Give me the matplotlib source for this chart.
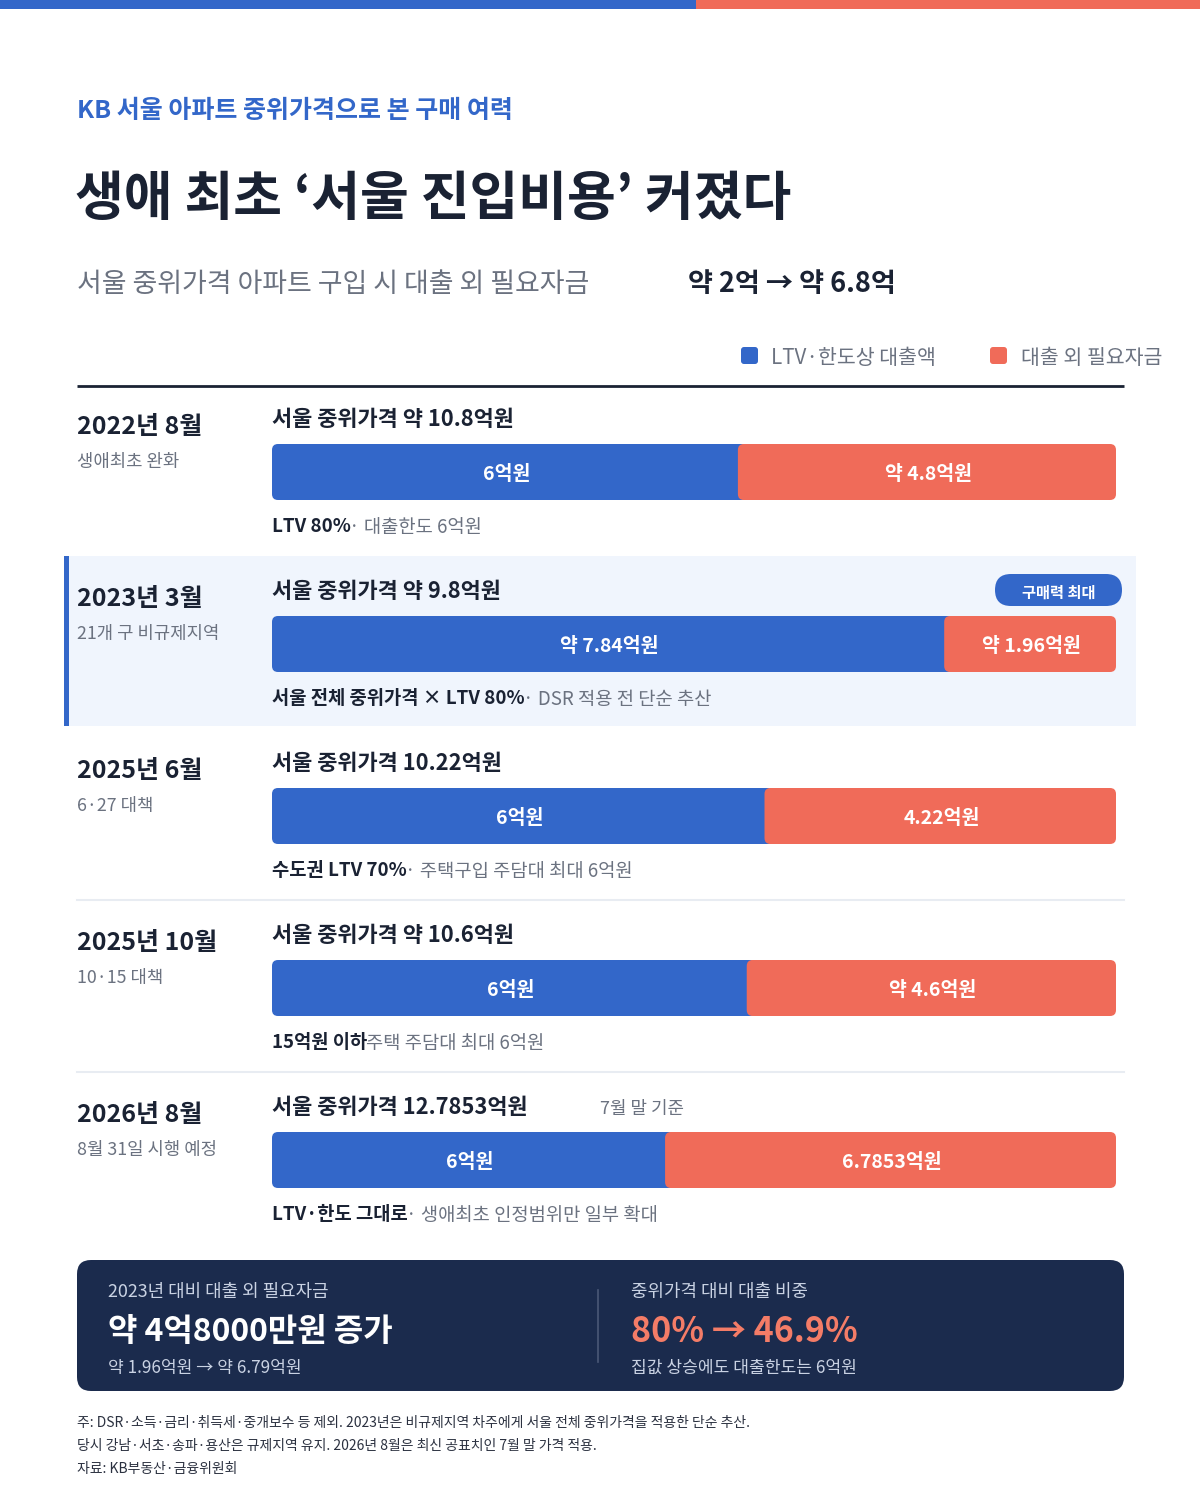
import matplotlib
matplotlib.use('Agg')
import matplotlib.pyplot as plt
from matplotlib.patches import FancyBboxPatch, Rectangle

plt.rcParams['font.family'] = ['Noto Sans CJK KR', 'DejaVu Sans']

# === data === #
periods = ['2022년 8월', '2023년 3월', '2025년 6월', '2025년 10월', '2026년 8월']
period_notes = ['생애최초 완화', '21개 구 비규제지역', '6·27 대책', '10·15 대책', '8월 31일 시행 예정']
headings = ['서울 중위가격 약 10.8억원', '서울 중위가격 약 9.8억원', '서울 중위가격 10.22억원',
            '서울 중위가격 약 10.6억원', '서울 중위가격 12.7853억원']
loan = [6.0, 7.84, 6.0, 6.0, 6.0]
extra = [4.8, 1.96, 4.22, 4.6, 6.7853]
loan_labels = ['6억원', '약 7.84억원', '6억원', '6억원', '6억원']
extra_labels = ['약 4.8억원', '약 1.96억원', '4.22억원', '약 4.6억원', '6.7853억원']
rule_bold = ['LTV 80%', '서울 전체 중위가격 × LTV 80%', '수도권 LTV 70%', '15억원 이하', 'LTV·한도 그대로']
rule_rest = ['· 대출한도 6억원', '· DSR 적용 전 단순 추산', '· 주택구입 주담대 최대 6억원',
             '주택 주담대 최대 6억원', '· 생애최초 인정범위만 일부 확대']
highlight_row = 1
footnotes = ['주: DSR·소득·금리·취득세·중개보수 등 제외. 2023년은 비규제지역 차주에게 서울 전체 중위가격을 적용한 단순 추산.',
             '당시 강남·서초·송파·용산은 규제지역 유지. 2026년 8월은 최신 공표치인 7월 말 가격 적용.',
             '자료: KB부동산·금융위원회']

BLUE = '#3367C9'
RED = '#F06B59'
NAVY = '#1B2B4D'
DARK = '#1A2233'
GRAY = '#6B7280'
HILITE = '#F0F5FD'
SEP = '#E8ECF2'
PALE = '#C9D2E3'

W, H = 1200, 1500
DY = 3  # CJK glyphs sit a little high with va='center'

fig = plt.figure(figsize=(12, 15), dpi=100)
fig.patch.set_facecolor('white')

# canvas axes in pixel units for the layout
ax = fig.add_axes([0, 0, 1, 1])
ax.set_xlim(0, W)
ax.set_ylim(H, 0)
ax.axis('off')


def txt(x, y, s, **kw):
    kw.setdefault('va', 'center')
    return ax.text(x, y + DY, s, **kw)


# top stripe
ax.add_patch(Rectangle((0, 0), 696, 9, color=BLUE, lw=0))
ax.add_patch(Rectangle((696, 0), W - 696, 9, color=RED, lw=0))

txt(77, 108, 'KB 서울 아파트 중위가격으로 본 구매 여력', fontsize=18, fontweight='bold', color=BLUE)
txt(75, 197, '생애 최초 ‘서울 진입비용’ 커졌다', fontsize=38.2, fontweight='bold', color=DARK)
txt(77, 281, '서울 중위가격 아파트 구입 시 대출 외 필요자금', fontsize=19.4, color=GRAY)
txt(688, 281, '약 2억 → 약 6.8억', fontsize=19.5, fontweight='bold', color=DARK)

# legend
ax.add_patch(FancyBboxPatch((741, 347), 17, 17, boxstyle='round,pad=0,rounding_size=3',
                            color=BLUE, lw=0))
txt(771, 355, 'LTV·한도상 대출액', fontsize=14.8, color=GRAY)
ax.add_patch(FancyBboxPatch((990, 347), 17, 17, boxstyle='round,pad=0,rounding_size=3',
                            color=RED, lw=0))
txt(1021, 355, '대출 외 필요자금', fontsize=14.8, color=GRAY)

ax.plot([77, 1124], [386, 386], color=DARK, lw=2, solid_capstyle='butt')

# rows
row_step = 172
bar_c0 = 472
bar_h = 56

# bar axes: x is the share of the median price
bx = fig.add_axes([272 / W, 0, (1116 - 272) / W, 1])
bx.set_xlim(0, 1)
bx.set_ylim(H, 0)
bx.axis('off')
px_per_unit = 1116 - 272

for i in range(len(periods)):
    yc = bar_c0 + i * row_step
    if i == highlight_row:
        ax.add_patch(Rectangle((64, yc - 88), 1136 - 64, 170, color=HILITE, lw=0, zorder=0))
        ax.add_patch(Rectangle((64, yc - 88), 5, 170, color=BLUE, lw=0, zorder=1))
        ax.add_patch(FancyBboxPatch((995, yc - 70), 127, 32, boxstyle='round,pad=0,rounding_size=16',
                                    color=BLUE, lw=0))
        txt(1058.5, yc - 54, '구매력 최대', fontsize=11, fontweight='bold', color='white',
            ha='center')
    elif i > 0 and i - 1 != highlight_row:
        ax.plot([77, 1124], [yc - 88, yc - 88], color=SEP, lw=1.5)

    txt(77, yc - 48, periods[i], fontsize=18, fontweight='bold', color=DARK)
    txt(77, yc - 13, period_notes[i], fontsize=12.8, color=GRAY)
    txt(272, yc - 56, headings[i], fontsize=15.8, fontweight='bold', color=DARK)
    if i == len(periods) - 1:
        txt(600, yc - 54, '7월 말 기준', fontsize=12.9, color=GRAY)

    total = loan[i] + extra[i]
    share = loan[i] / total
    r = 6 / px_per_unit
    bx.add_patch(FancyBboxPatch((0, yc - bar_h / 2), share + r, bar_h,
                                boxstyle='round,pad=0,rounding_size=%f' % r,
                                mutation_aspect=px_per_unit, color=BLUE, lw=0))
    bx.add_patch(FancyBboxPatch((share - 0.5 * r, yc - bar_h / 2), 1 - share + 0.5 * r, bar_h,
                                boxstyle='round,pad=0,rounding_size=%f' % r,
                                mutation_aspect=px_per_unit, color=RED, lw=0))
    bx.text(share / 2, yc + 2, loan_labels[i], fontsize=14, fontweight='bold', color='white',
            ha='center', va='center')
    bx.text(share + (1 - share) / 2, yc + 2, extra_labels[i], fontsize=14, fontweight='bold',
            color='white', ha='center', va='center')

    t = txt(272, yc + 52, rule_bold[i], fontsize=13.5, fontweight='bold', color=DARK)
    ax.annotate(rule_rest[i], xy=(1, 0.5), xycoords=t, xytext=(-1, 0), textcoords='offset points',
                fontsize=13.5, color=GRAY, va='center', ha='left')

# summary box
ax.add_patch(FancyBboxPatch((77, 1260), 1124 - 77, 131, boxstyle='round,pad=0,rounding_size=14',
                            color=NAVY, lw=0))
txt(108, 1289, '2023년 대비 대출 외 필요자금', fontsize=12.9, color=PALE)
txt(108, 1329, '약 4억8000만원 증가', fontsize=23, fontweight='bold', color='white')
txt(108, 1365, '약 1.96억원 → 약 6.79억원', fontsize=12.3, color=PALE)
ax.plot([598, 598], [1290, 1362], color='#4A5877', lw=1.2)
txt(631, 1289, '중위가격 대비 대출 비중', fontsize=12.9, color=PALE)
txt(631, 1329, '80% → 46.9%', fontsize=24.5, fontweight='bold', color='#F47C67')
txt(631, 1365, '집값 상승에도 대출한도는 6억원', fontsize=12.3, color=PALE)

for k, line in enumerate(footnotes):
    txt(77, 1420 + k * 23, line, fontsize=10, color='#2B3140')

fig.savefig('out.png', dpi=100, facecolor='white')
